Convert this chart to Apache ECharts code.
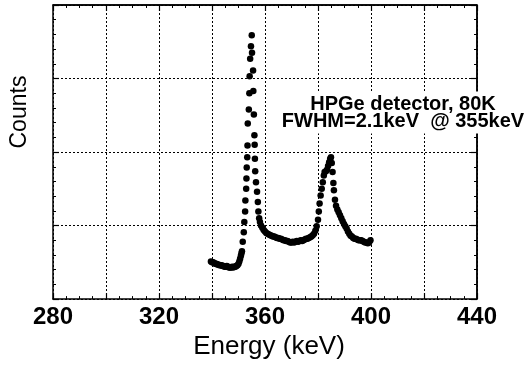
<!DOCTYPE html>
<html>
<head>
<meta charset="utf-8">
<script src="https://cdn.jsdelivr.net/npm/echarts@6/dist/echarts.min.js"></script>
<style>
  html, body { margin: 0; padding: 0; background: #fff; }
  #chart { width: 526px; height: 365px; }
</style>
</head>
<body>
<div id="chart"></div>
<script>
// spectrum (energy in keV, counts in arbitrary units)
const energy = [
  339.6, 340.0, 340.4, 340.8, 341.2, 341.6, 342.0, 342.4, 342.8, 343.2,
  343.6, 344.0, 344.4, 344.8, 345.2, 345.6, 346.0, 346.4, 346.8, 347.2,
  347.6, 348.0, 348.4, 348.8, 349.2, 349.6, 350.0, 350.3, 350.6, 350.9,
  351.1, 351.3, 351.6, 352.0, 352.2, 352.5, 352.6, 352.9, 353.0, 353.1,
  353.3, 353.4, 353.5, 353.9, 354.1, 354.2, 354.4, 354.7, 355.0, 355.1,
  355.5, 355.6, 355.8, 356.0, 356.1, 356.2, 356.3, 356.6, 357.0, 357.3,
  357.5, 357.8, 358.1, 358.5, 359.0, 359.5, 360.0, 360.5, 361.0, 361.5,
  362.0, 362.5, 363.0, 363.5, 364.0, 364.5, 365.0, 365.5, 366.0, 366.5,
  367.0, 367.5, 368.0, 368.5, 369.0, 369.5, 370.0, 370.5, 371.0, 371.5,
  372.0, 372.5, 373.0, 373.5, 374.0, 374.5, 375.0, 375.5, 376.0, 376.5,
  377.0, 377.5, 378.0, 378.5, 379.0, 379.5, 380.0, 380.3, 380.6, 381.0,
  381.4, 381.8, 382.2, 382.5, 383.0, 383.4, 383.8, 384.2, 384.6, 384.9,
  385.2, 385.5, 385.8, 386.0, 386.4, 386.8, 387.3, 387.8, 388.3, 388.8,
  389.3, 389.8, 390.3, 390.8, 391.3, 391.8, 392.3, 392.8, 393.3, 393.8,
  394.3, 394.8, 395.3, 395.8, 396.3, 396.8, 397.3, 397.8, 398.3, 398.8,
  399.3, 399.8
];
const counts = [
  0.51, 0.50, 0.50, 0.49, 0.48, 0.48, 0.47, 0.47, 0.46, 0.46,
  0.46, 0.45, 0.45, 0.44, 0.44, 0.45, 0.44, 0.43, 0.43, 0.43,
  0.44, 0.43, 0.44, 0.44, 0.45, 0.46, 0.48, 0.51, 0.55, 0.59,
  0.62, 0.65, 0.78, 0.91, 1.05, 1.19, 1.34, 1.50, 1.64, 1.79,
  1.93, 2.09, 2.39, 2.58, 2.80, 3.03, 3.27, 3.44, 3.59, 3.35,
  3.11, 2.83, 2.51, 2.23, 2.10, 1.91, 1.74, 1.59, 1.46, 1.32,
  1.19, 1.10, 1.05, 1.00, 0.97, 0.94, 0.92, 0.90, 0.89, 0.88,
  0.87, 0.86, 0.85, 0.85, 0.84, 0.83, 0.83, 0.82, 0.82, 0.81,
  0.80, 0.80, 0.79, 0.79, 0.78, 0.77, 0.77, 0.78, 0.77, 0.78,
  0.79, 0.78, 0.79, 0.80, 0.79, 0.80, 0.81, 0.82, 0.82, 0.83,
  0.84, 0.85, 0.87, 0.89, 0.93, 0.99, 1.08, 1.19, 1.30, 1.41,
  1.50, 1.59, 1.68, 1.73, 1.74, 1.76, 1.81, 1.86, 1.91, 1.93,
  1.85, 1.73, 1.58, 1.48, 1.35, 1.27, 1.22, 1.18, 1.14, 1.10,
  1.06, 1.02, 0.99, 0.96, 0.92, 0.89, 0.86, 0.85, 0.83, 0.82,
  0.82, 0.81, 0.80, 0.80, 0.80, 0.79, 0.78, 0.77, 0.77, 0.76,
  0.77, 0.80
];
const xTickLabels = [280, 320, 360, 400, 440];
const xRange = [280, 440];
const yRange = [0, 4];
const annotation = ['HPGe detector, 80K', 'FWHM=2.1keV  @ 355keV'];

const chart = echarts.init(document.getElementById('chart'));

const frame = {
    show: true,
    axisLine: { show: true, onZero: false, lineStyle: { color: '#000', width: 1.5 } },
    axisTick: { show: true, inside: true, length: 6, lineStyle: { color: '#000', width: 1.2 } },
    minorTick: { show: true, length: 3, lineStyle: { color: '#000', width: 1 } },
    splitLine: { show: false },
    minorSplitLine: { show: false }
};
const dotted = { show: true, lineStyle: { color: '#000', width: 1, type: [2, 2] } };

const option = {
    backgroundColor: '#fff',
    animation: false,
    // annotation box (white background hides the grid behind it)
    title: {
        text: annotation.join('\n'),
        left: 401, top: 93, z: 10,
        textAlign: 'center',
        backgroundColor: '#fff',
        padding: [3, 2, 2, 2],
        textStyle: {
            fontFamily: 'Liberation Sans', fontSize: 20, fontWeight: 'bold',
            color: '#000', lineHeight: 17
        }
    },
    grid: { left: 51, right: 49, top: 5, bottom: 64 },
    xAxis: [
        {
            type: 'value', min: xRange[0], max: xRange[1], interval: 20, position: 'bottom',
            ...frame,
            minorTick: { ...frame.minorTick, splitNumber: 4 },
            splitLine: dotted,
            axisLabel: {
                margin: 6, color: '#000', customValues: xTickLabels,
                fontFamily: 'Liberation Sans', fontSize: 24, fontWeight: 'bold'
            },
            name: 'Energy (keV)',
            nameLocation: 'middle',
            nameGap: 29,
            nameTextStyle: { fontFamily: 'Liberation Sans', fontSize: 26, color: '#000', padding: [0, 0, 0, 8] }
        },
        {
            type: 'value', min: xRange[0], max: xRange[1], interval: 20, position: 'top',
            ...frame,
            minorTick: { ...frame.minorTick, splitNumber: 4 },
            axisLabel: { show: false }
        }
    ],
    yAxis: [
        {
            type: 'value', min: yRange[0], max: yRange[1], interval: 1, position: 'left',
            ...frame,
            minorTick: { ...frame.minorTick, splitNumber: 5 },
            splitLine: dotted,
            axisLabel: { show: false },
            name: 'Counts',
            nameLocation: 'middle',
            nameGap: 22,
            nameRotate: 90,
            nameTextStyle: { fontFamily: 'Liberation Sans', fontSize: 23, color: '#000', padding: [0, 0, 0, 80] }
        },
        {
            type: 'value', min: yRange[0], max: yRange[1], interval: 1, position: 'right',
            ...frame,
            minorTick: { ...frame.minorTick, splitNumber: 5 },
            axisLabel: { show: false }
        }
    ],
    series: [
        {
            type: 'scatter',
            data: energy.map((e, i) => [e, counts[i]]),
            symbol: 'circle',
            symbolSize: 6.5,
            itemStyle: { color: '#000', opacity: 1 },
            clip: false,
            silent: true,
            // top and right edges of the frame, placed through the axis scales
            markLine: {
                silent: true,
                symbol: ['none', 'none'],
                label: { show: false },
                lineStyle: { color: '#000', width: 1.5, type: 'solid' },
                emphasis: { disabled: true },
                data: [{ yAxis: yRange[1] }, { xAxis: xRange[1] }]
            }
        },
        // empty series tied to the top / right frame axes
        { type: 'scatter', xAxisIndex: 1, yAxisIndex: 1, data: [], silent: true }
    ]
};
chart.setOption(option);
</script>
</body>
</html>
